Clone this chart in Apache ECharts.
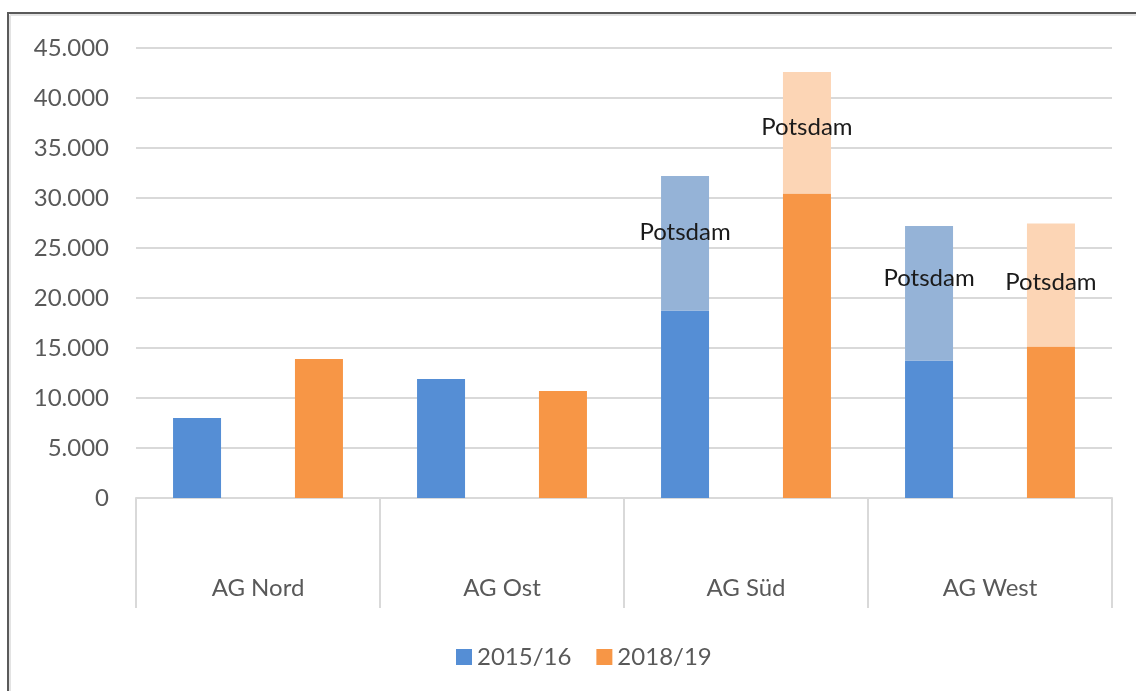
<!DOCTYPE html>
<html>
<head>
<meta charset="utf-8">
<script src="https://cdn.jsdelivr.net/npm/echarts@6/dist/echarts.min.js"></script>
<style>
  html, body { margin: 0; padding: 0; background: #fff; }
  #chart { width: 1136px; height: 691px; }
</style>
</head>
<body>
<div id="chart"></div>
<script>
// Werte
const categories = ['AG Nord', 'AG Ost', 'AG Süd', 'AG West']
const base1516 = [8000, 11900, 18750, 13750]
const potsdam1516 = [null, null, 13450, 13450]
const base1819 = [13900, 10700, 30450, 15150]
const potsdam1819 = [null, null, 12150, 12300]
const yTicks = [0, 5000, 10000, 15000, 20000, 25000, 30000, 35000, 40000, 45000]

const chart = echarts.init(document.getElementById('chart'))

const fontFamily = 'Lato, "Noto Sans", sans-serif'

function fmt(v) {
  return String(v).replace(/\B(?=(\d{3})+(?!\d))/g, '.')
}

// label nudges, Excel hat die Labels leicht verschoben
function potsdamData(values, offsets) {
  return values.map((v, i) => {
    if (v == null) return null
    return { value: v, label: { offset: [0, offsets[i]] } }
  })
}

const barWidth = 48
const barGap = '154%'

chart.setOption({
  animation: false,
  textStyle: { fontFamily: fontFamily },
  graphic: [
    { type: 'line', shape: { x1: 8, y1: 13, x2: 1136, y2: 13 }, style: { stroke: '#5a5a5a', lineWidth: 2 } },
    { type: 'line', shape: { x1: 8, y1: 12, x2: 8, y2: 691 }, style: { stroke: '#5a5a5a', lineWidth: 2 } },
    { type: 'line', shape: { x1: 10, y1: 15, x2: 1136, y2: 15 }, style: { stroke: '#e3e3e3', lineWidth: 2 } },
    { type: 'line', shape: { x1: 10, y1: 15, x2: 10, y2: 691 }, style: { stroke: '#e3e3e3', lineWidth: 2 } }
  ],
  grid: {
    left: 136,
    right: 24,
    top: 48,
    bottom: 193
  },
  legend: {
    data: ['2015/16', '2018/19'],
    left: 451,
    top: 640,
    itemWidth: 16,
    itemHeight: 16,
    itemGap: 25,
    icon: 'rect',
    textStyle: { fontSize: 24, color: '#595959' }
  },
  xAxis: {
    type: 'category',
    data: categories,
    axisLine: { lineStyle: { color: '#d9d9d9', width: 2 } },
    axisTick: { show: true, alignWithLabel: false, length: 110, lineStyle: { color: '#d9d9d9', width: 2 } },
    axisLabel: { margin: 78, fontSize: 24, color: '#595959' }
  },
  yAxis: {
    type: 'value',
    min: yTicks[0],
    max: yTicks[yTicks.length - 1],
    interval: yTicks[1] - yTicks[0],
    axisLine: { show: false },
    axisTick: { show: false },
    splitLine: { lineStyle: { color: '#d9d9d9', width: 2 } },
    axisLabel: {
      margin: 27,
      fontSize: 24,
      color: '#595959',
      formatter: fmt
    }
  },
  series: [
    {
      name: '2015/16',
      type: 'bar',
      stack: 'a',
      barWidth: barWidth,
      barGap: barGap,
      itemStyle: { color: '#558ed5' },
      data: base1516
    },
    {
      name: 'Potsdam 2015/16',
      type: 'bar',
      stack: 'a',
      barWidth: barWidth,
      barGap: barGap,
      itemStyle: { color: '#95b3d7' },
      label: {
        show: true,
        position: 'inside',
        formatter: 'Potsdam',
        fontSize: 24,
        color: '#1a1a1a'
      },
      data: potsdamData(potsdam1516, [0, 0, -11, -15])
    },
    {
      name: '2018/19',
      type: 'bar',
      stack: 'b',
      barWidth: barWidth,
      barGap: barGap,
      itemStyle: { color: '#f79646' },
      data: base1819
    },
    {
      name: 'Potsdam 2018/19',
      type: 'bar',
      stack: 'b',
      barWidth: barWidth,
      barGap: barGap,
      itemStyle: { color: '#fcd5b5' },
      label: {
        show: true,
        position: 'inside',
        formatter: 'Potsdam',
        fontSize: 24,
        color: '#1a1a1a'
      },
      data: potsdamData(potsdam1819, [0, 0, -5, -3])
    }
  ]
})
</script>
</body>
</html>
